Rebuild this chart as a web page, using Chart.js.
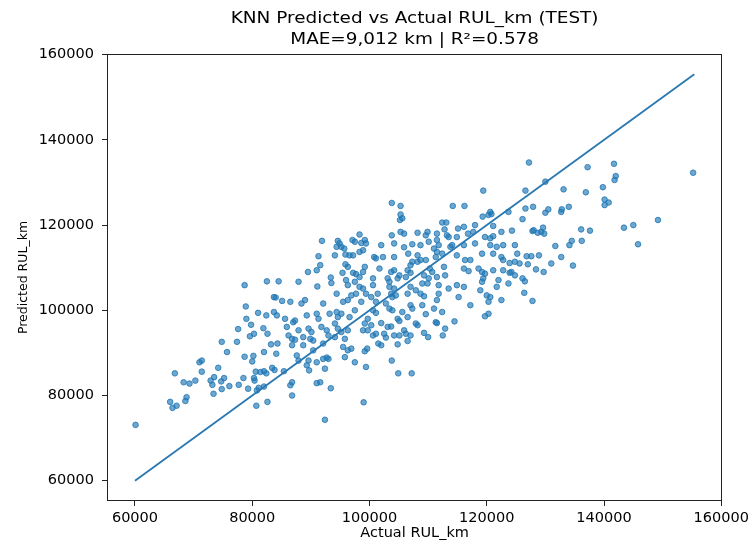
<!DOCTYPE html>
<html>
<head>
<meta charset="utf-8">
<script src="https://cdn.jsdelivr.net/npm/chart.js@4.4.1/dist/chart.umd.min.js"></script>
<style>
  html, body { margin: 0; padding: 0; background: #fff; }
  #chart { display: block; }
</style>
</head>
<body>
<canvas id="chart" width="753" height="540"></canvas>
<script>
// title + axis text
const titleLines = ["KNN Predicted vs Actual RUL_km (TEST)", "MAE=9,012 km | R²=0.578"];
const xLabel = "Actual RUL_km";
const yLabel = "Predicted RUL_km";

// tick labels
const xTicks = [60000, 80000, 100000, 120000, 140000, 160000];
const yTicks = [60000, 80000, 100000, 120000, 140000, 160000];

// y = x reference line (min..max of actual)
const identityLine = [60000, 155400];

// test points (actual km)
const actualKm = [
  78700,82500,83700,84000,78900,81000,82400,83700,84200,79000,79800,77600,81900,80300,79600,82600,
  74800,77400,83200,84300,75700,82000,84100,78700,80200,80000,71000,71400,74200,71400,80600,81400,
  82000,82400,83400,83800,66800,73500,75200,78500,80300,80400,70300,69300,68300,72900,73200,74700,
  76100,77700,74800,79300,81100,82000,80800,73400,68800,68600,66000,66400,67100,82600,80700,60100,
  84500,87900,91100,93500,96300,97500,94400,97700,96900,85100,86500,89000,88400,92100,95500,96300,
  85600,87000,87300,89300,91000,91300,93200,94400,94600,95200,96600,97500,85900,87900,89600,90100,
  91800,92700,94100,94600,95200,96300,86200,86800,87300,88700,89900,90400,93000,94100,95800,86800,
  88700,90400,92100,95500,96300,96900,87600,87900,89600,91000,92100,92700,93000,95800,97500,85400,
  89300,89700,92400,86800,86500,91000,91600,93400,86800,92400,
  91900,94600,94900,95200,95700,94400,97100,97500,95900,96600,97200,91300,94100,95900,96300,91600,
  91000,89500,95400,97200,97700,93400,96000,
  119400,103800,105300,114200,116200,105300,105600,105200,120600,120800,120300,119300,112400,113100,
  112800,115100,116100,118000,117700,121100,98300,103800,105300,105900,108200,109900,109600,111500,
  113200,113500,114900,116800,119700,120600,121100,122500,99200,98600,99400,102000,104200,105900,
  107300,108700,110100,111500,111800,113800,114100,116100,118000,120600,121700,122800,98900,98300,
  100800,101100,102300,104200,106600,108200,108700,108200,111000,111500,111300,112400,114900,116300,
  117200,119200,121100,122500,122800,107300,107000,109600,112700,110300,110700,116100,116900,118600,
  119200,119700,121100,122800,99200,98900,101700,103700,104200,106500,107000,105100,104800,98300,
  100600,103100,103400,106200,109300,110100,109900,111500,112900,119400,119200,122000,98300,98900,
  100600,103400,104200,107000,107900,109000,111800,113500,114900,116100,118900,121700,99400,100300,
  101400,103700,103900,104500,106500,108700,109300,111800,111500,115200,120000,120600,122500,98600,
  101100,102800,107000,107300,109000,111000,117200,120300,100600,101100,103400,103900,105600,109600,
  112400,119700,120300,99700,104800,106500,
  99200,100300,99700,102000,103100,103700,105100,107900,108200,111300,111500,114500,112900,98900,
  100600,101100,102500,102800,104200,105100,105900,106200,107000,109300,110000,112500,106500,101500,
  102000,104800,99200,99600,103800,99400,104900,107200,99000,
  127200,137200,141700,142000,141800,155200,130000,126600,133100,136900,139800,140100,140800,140100,
  123700,126600,127900,130000,130500,132800,132700,134000,126100,124300,127800,128000,128700,129300,
  129600,129800,136100,137600,143400,145000,149200,124800,131700,134500,134100,136200,145800,125200,
  126800,127600,128900,132700,123900,124800,125600,127000,131000,134700,123900,124200,124800,128400,
  129700,126100,126500,123700,126400,127800
];

// KNN predictions for the same points (km)
const predictedKm = [
  105900,106800,103100,103000,100900,99400,98800,99600,98800,98000,96600,95600,95800,94500,93900,94500,
  92600,92600,92000,92200,90200,90200,89800,89100,89300,88000,87800,88200,86500,85600,85600,85500,
  85700,85200,86500,86000,85200,84300,84100,84100,84100,83500,83500,82800,83100,83500,82500,83300,
  82200,82500,81500,81600,81800,82100,81200,80400,79600,78700,78500,77100,77600,78500,77600,73100,
  106800,106700,105600,106400,105900,106700,103900,103900,103500,102200,102000,102400,101600,101600,102000,102400,
  98000,97200,97600,98800,99200,98000,99200,99600,98400,99200,98400,100000,96100,95300,95700,94900,
  96100,95300,96900,95700,94900,95300,94100,93300,93100,93700,93300,92900,94100,93700,93300,91800,
  91800,90600,92200,91400,90600,91000,89400,88200,88200,87800,88600,88900,88600,89000,87800,85700,
  87100,85900,86300,83100,82400,82900,83100,81700,80000,74300,
  116300,116300,115700,114900,114500,114900,116500,116100,113100,112900,112900,112700,112900,110800,110200,110600,
  109400,109000,108800,108800,108500,107700,107100,
  128100,125200,124500,124500,124500,122500,121600,121200,123100,122600,122400,122000,120600,120600,
  119000,119200,119600,120000,118400,119800,117800,117600,118400,118000,118200,118400,117600,118000,
  117600,117200,117200,118000,117200,116900,117400,118400,116500,115800,115700,115300,115700,114800,
  115500,115300,116100,116500,115300,114900,115300,115300,115700,115300,114900,115300,114100,113700,
  112500,112200,112500,112500,113300,112900,111800,111400,114500,113700,112500,113300,112900,111800,
  111800,113300,113300,112500,111800,111400,110600,111800,110200,109800,109000,109800,109200,109800,
  109000,108600,109400,109400,110200,109000,109800,109000,109400,109400,108800,108200,107500,107800,
  107500,107500,106700,107800,108200,107500,106300,107800,108200,107500,106700,107100,105500,105100,
  105900,105500,105100,105500,104700,106300,105900,105100,105900,105500,104700,105500,103900,103100,
  103900,103900,103100,103500,103900,103900,103300,103900,102400,103100,103500,103100,102400,102000,
  102000,101600,101200,100400,101200,100400,101200,102000,100000,99400,100400,100000,99600,99100,
  99600,98600,99200,98000,98000,98400,
  96900,96500,95300,97000,96100,96200,97500,96900,96500,97200,97000,97400,95700,95300,
  94100,94500,94500,93600,94100,94100,95300,94500,94100,94700,93700,94100,92800,92200,
  91800,92000,90400,91000,88200,86700,85200,85200,78400,
  134700,133600,134400,131500,130600,132300,130200,128100,128400,127700,128900,126000,125300,124700,
  123100,123900,124300,122900,123700,123700,123100,124300,121400,118700,118600,118800,118200,118400,
  119400,118000,119000,118700,119400,120000,121200,115300,115100,116300,115300,116300,115500,113300,
  112700,112700,112900,112500,111100,111400,111000,110800,111000,110500,108800,109000,108200,109600,
  109000,107500,106800,106300,104100,102200
];

// matplotlib-style 5% margins around the data range
const pad = (identityLine[1] - identityLine[0]) * 0.05;
const axisMin = identityLine[0] - pad;
const axisMax = identityLine[1] + pad;

const points = actualKm.map((x, i) => ({ x: x, y: predictedKm[i] }));
const linePoints = identityLine.map(v => ({ x: v, y: v }));

Chart.defaults.font.family = '"DejaVu Sans", sans-serif';
Chart.defaults.color = '#000';

// box around the plot + the two-line title centred on the axes
const frameAndTitle = {
  id: 'frameAndTitle',
  afterDatasetsDraw(chart) {
    const { ctx, chartArea: a } = chart;
    ctx.save();
    ctx.strokeStyle = '#222';
    ctx.lineWidth = 1;
    ctx.strokeRect(Math.round(a.left) + 0.5, Math.round(a.top) + 0.5,
      Math.round(a.right - a.left) - 1, Math.round(a.bottom - a.top) - 1);

    ctx.fillStyle = '#000';
    ctx.font = '16px "DejaVu Sans"';
    ctx.textAlign = 'center';
    ctx.textBaseline = 'middle';
    const cx = (a.left + a.right) / 2;
    [19, 40].forEach((y, i) => {
      ctx.save();
      ctx.translate(cx, y);
      ctx.scale(1.15, 1);
      ctx.fillText(titleLines[i], 0, 0);
      ctx.restore();
    });
    ctx.restore();
  }
};

new Chart(document.getElementById('chart'), {
  type: 'scatter',
  data: {
    datasets: [
      {
        type: 'line',
        data: linePoints,
        borderColor: '#2a78b2',
        borderWidth: 1.8,
        pointRadius: 0,
        fill: false
      },
      {
        data: points,
        pointRadius: 2.8,
        pointBackgroundColor: 'rgba(31,119,180,0.65)',
        pointBorderColor: 'rgba(31,119,180,0.8)',
        pointBorderWidth: 1
      }
    ]
  },
  options: {
    responsive: false,
    animation: false,
    devicePixelRatio: 1,
    layout: { padding: { top: 54, right: 26, bottom: 0, left: 0 } },
    plugins: {
      legend: { display: false },
      tooltip: { enabled: false },
      title: { display: false }
    },
    scales: {
      x: {
        type: 'linear',
        min: axisMin,
        max: axisMax,
        afterBuildTicks: s => { s.ticks = xTicks.map(v => ({ value: v })); },
        afterFit: s => { s.height = 39; },
        grid: { display: true, drawOnChartArea: false, tickLength: 5, color: '#222', tickColor: '#222' },
        border: { display: false },
        ticks: { font: { size: 14.5 }, padding: 4, maxRotation: 0, autoSkip: false, callback: v => String(v) },
        title: { display: true, text: xLabel, font: { size: 14.5 }, padding: { top: 0, bottom: -2 } }
      },
      y: {
        type: 'linear',
        min: axisMin,
        max: axisMax,
        afterBuildTicks: s => { s.ticks = yTicks.map(v => ({ value: v })); },
        afterFit: s => { s.width = 107; },
        grid: { display: true, drawOnChartArea: false, tickLength: 5, color: '#222', tickColor: '#222' },
        border: { display: false },
        ticks: { font: { size: 14.5 }, padding: 8, autoSkip: false, callback: v => String(v) },
        title: { display: true, text: yLabel, font: { size: 12.5 }, padding: { top: 16, bottom: 0 } }
      }
    }
  },
  plugins: [frameAndTitle]
});
</script>
</body>
</html>
